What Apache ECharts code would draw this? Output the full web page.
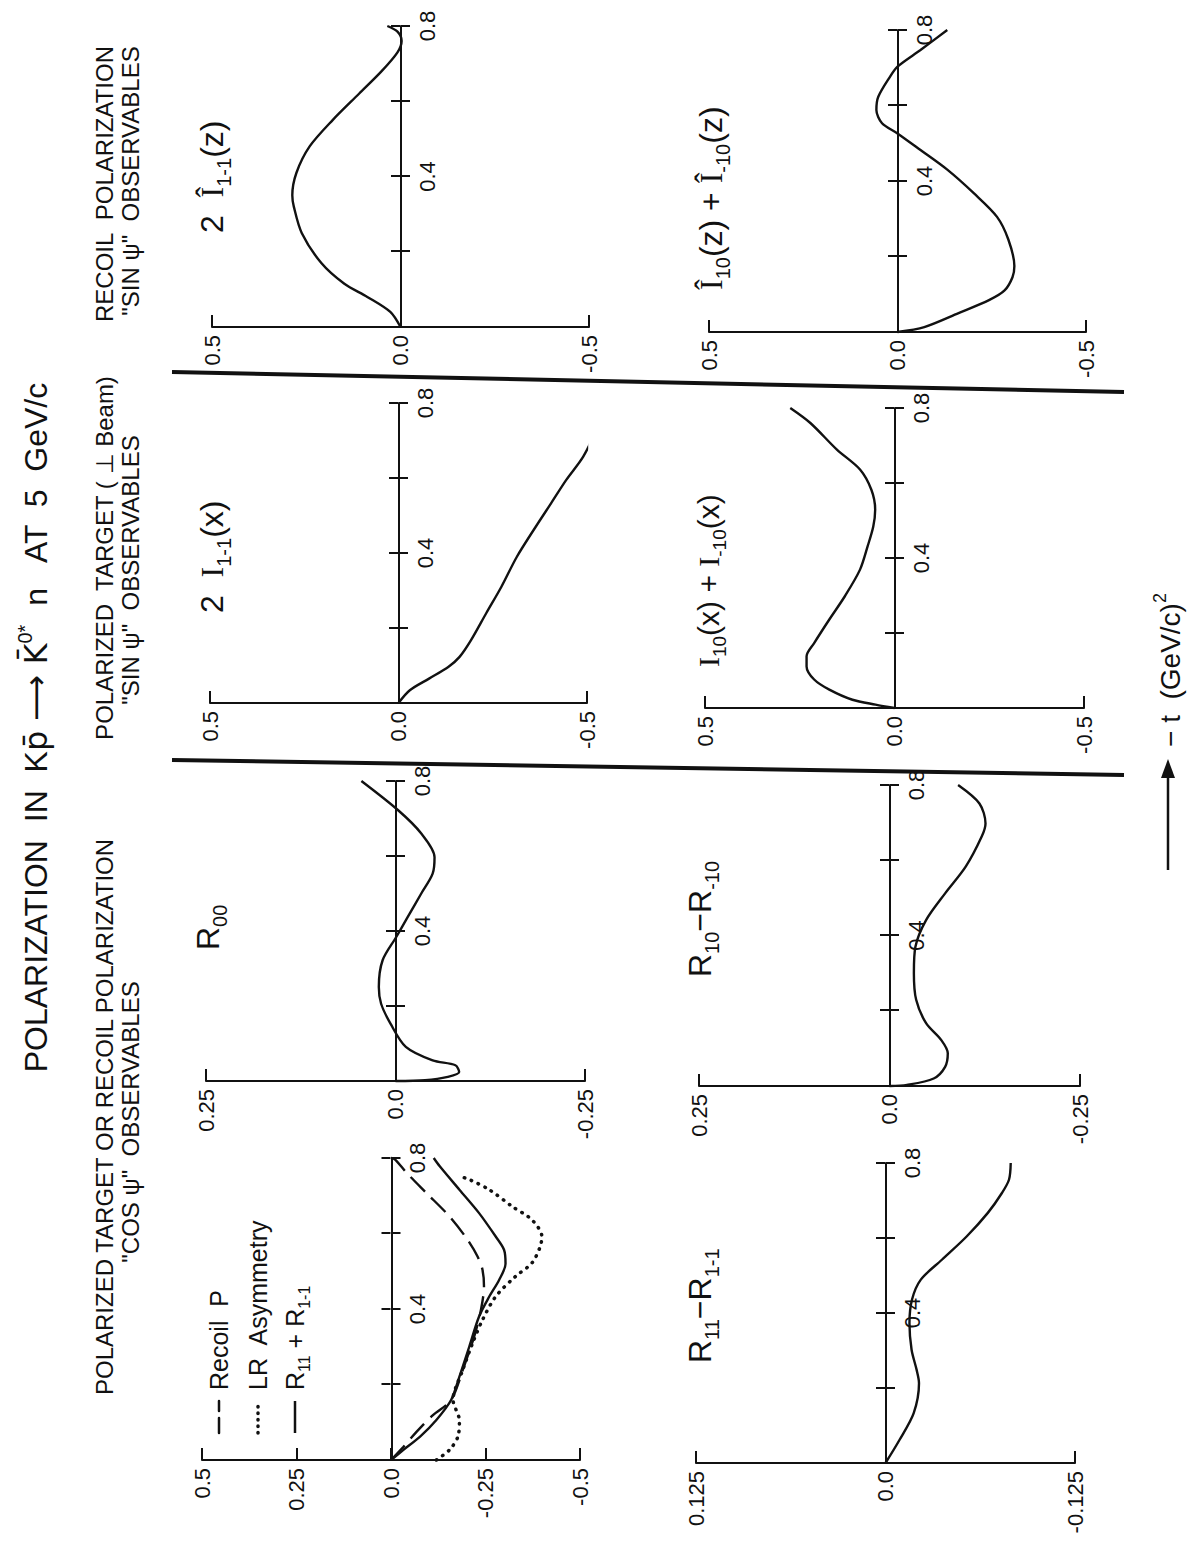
<!DOCTYPE html>
<html>
<head>
<meta charset="utf-8">
<title>Polarization in K-p to K0* n at 5 GeV/c</title>
<style>
    html, body { margin: 0; padding: 0; background: #fff; }
    body { width: 1190px; height: 1549px; overflow: hidden; position: relative; }
    /* the figure is drawn landscape and turned a quarter to the left, like the scanned page */
    #chart {
        position: absolute; left: 0; top: 0;
        width: 1549px; height: 1190px;
        transform-origin: 0 0;
        transform: translateY(1549px) rotate(-90deg);
    }
</style>
</head>
<body>
<div id="chart"></div>
<script src="https://cdn.jsdelivr.net/npm/echarts@6/dist/echarts.min.js"></script>
<script>
    // -t axis: ticks every 0.2, only these get a label
    var tLabels = ['0.4', '0.8'];

    // curves as [-t, value]
    var hatI1m1z = [[0, 0], [0.04, 0.027], [0.08, 0.088], [0.115, 0.149], [0.17, 0.21], [0.25, 0.262],
        [0.32, 0.283], [0.35, 0.287], [0.41, 0.276], [0.48, 0.241], [0.55, 0.18], [0.62, 0.11],
        [0.68, 0.05], [0.73, 0.008], [0.76, -0.003], [0.785, 0.008], [0.8, 0.035]];
    var hatI10z = [[0, 0], [0.013, -0.071], [0.05, -0.162], [0.085, -0.244], [0.11, -0.284], [0.145, -0.305],
        [0.175, -0.31], [0.245, -0.294], [0.305, -0.264], [0.367, -0.203], [0.43, -0.132], [0.482, -0.061],
        [0.526, 0], [0.553, 0.041], [0.588, 0.056], [0.623, 0.051], [0.676, 0.02], [0.703, 0],
        [0.747, -0.061], [0.8, -0.132]];
    var I1m1x = [[0, 0], [0.034, -0.03], [0.065, -0.081], [0.096, -0.132], [0.123, -0.162], [0.167, -0.192],
        [0.24, -0.233], [0.31, -0.273], [0.39, -0.314], [0.47, -0.364], [0.533, -0.405], [0.595, -0.445],
        [0.657, -0.49], [0.73, -0.525], [0.8, -0.55]];
    var I10x = [[0, 0], [0.009, 0.05], [0.022, 0.111], [0.049, 0.172], [0.076, 0.212], [0.111, 0.232],
        [0.138, 0.232], [0.173, 0.212], [0.236, 0.172], [0.298, 0.131], [0.369, 0.091], [0.431, 0.071],
        [0.484, 0.056], [0.529, 0.051], [0.582, 0.061], [0.636, 0.091], [0.689, 0.152], [0.76, 0.222],
        [0.8, 0.275]];
    var R00 = [[0, 0], [0.002, -0.039], [0.011, -0.069], [0.024, -0.084], [0.042, -0.079], [0.055, -0.049],
        [0.091, -0.0136], [0.153, 0.0066], [0.206, 0.019], [0.251, 0.022], [0.322, 0.017], [0.384, -0.001],
        [0.437, -0.016], [0.5, -0.034], [0.553, -0.049], [0.597, -0.0515], [0.66, -0.034], [0.722, -0.0035],
        [0.8, 0.045]];
    var R10mR_10 = [[0, 0], [0.003, -0.023], [0.02, -0.058], [0.051, -0.073], [0.087, -0.0765], [0.122, -0.068],
        [0.167, -0.048], [0.229, -0.035], [0.3, -0.032], [0.37, -0.034], [0.441, -0.048], [0.512, -0.073],
        [0.583, -0.1], [0.663, -0.121], [0.698, -0.126], [0.751, -0.118], [0.8, -0.09]];
    var recoilP = [[0, 0], [0.035, -0.033], [0.075, -0.068], [0.119, -0.111], [0.159, -0.159], [0.239, -0.19],
        [0.327, -0.22], [0.398, -0.238], [0.46, -0.246], [0.504, -0.242], [0.539, -0.229], [0.583, -0.203],
        [0.645, -0.155], [0.707, -0.094], [0.76, -0.042], [0.796, -0.011], [0.8, 0]];
    var lrAsym = [[0, -0.12], [0.027, -0.155], [0.062, -0.177], [0.106, -0.181], [0.133, -0.172], [0.159, -0.164],
        [0.239, -0.19], [0.31, -0.216], [0.371, -0.242], [0.433, -0.277], [0.486, -0.329], [0.522, -0.373],
        [0.566, -0.395], [0.592, -0.399], [0.636, -0.373], [0.672, -0.32], [0.716, -0.26], [0.743, -0.207],
        [0.752, -0.181]];
    var R11pR1m1 = [[0, 0], [0.027, -0.033], [0.062, -0.077], [0.106, -0.12], [0.159, -0.159], [0.221, -0.181],
        [0.3, -0.207], [0.38, -0.233], [0.433, -0.26], [0.477, -0.286], [0.52, -0.303], [0.557, -0.299],
        [0.592, -0.277], [0.654, -0.233], [0.716, -0.181], [0.778, -0.129], [0.8, -0.113]];
    var R11mR1m1 = [[0, 0], [0.062, -0.0093], [0.133, -0.0186], [0.213, -0.0221], [0.249, -0.0205],
        [0.302, -0.0172], [0.373, -0.0158], [0.436, -0.0175], [0.489, -0.0233], [0.542, -0.0372],
        [0.604, -0.0535], [0.667, -0.0675], [0.72, -0.0768], [0.756, -0.0815], [0.8, -0.0826]];

    var INK = '#111';
    var FONT = "'Liberation Sans', Arial, sans-serif";

    // panel boxes in the unrotated frame (left = -t 0, top = +lim)
    var panels = [
        {left: 1222, top: 212, width: 301, height: 377, lim: 0.5, step: 0.5},    // 2 I1-1(z)
        {left: 1217, top: 709, width: 302, height: 377, lim: 0.5, step: 0.5},    // I10(z)+I-10(z)
        {left: 846, top: 210, width: 300, height: 377, lim: 0.5, step: 0.5},     // 2 I1-1(x)
        {left: 841, top: 705, width: 300, height: 379, lim: 0.5, step: 0.5},     // I10(x)+I-10(x)
        {left: 468, top: 206, width: 300, height: 379, lim: 0.25, step: 0.25},   // R00
        {left: 463, top: 699, width: 301, height: 381, lim: 0.25, step: 0.25},   // R10-R-10
        {left: 89, top: 202, width: 302, height: 378, lim: 0.5, step: 0.25},     // recoil P, LR, R11+R1-1
        {left: 86, top: 696, width: 300, height: 379, lim: 0.125, step: 0.125}   // R11-R1-1
    ];
    var n = panels.length;

    var grid = [], xAxis = [], yAxis = [];
    function tLabel(v) {
        var s = v.toFixed(1);
        return tLabels.indexOf(s) >= 0 ? s : '';
    }
    // plotting boxes: value axis shown, -t axis hidden (drawn on the zero line below)
    panels.forEach(function (p, i) {
        grid.push({left: p.left, top: p.top, width: p.width, height: p.height, outerBoundsMode: 'none'});
        xAxis.push({gridIndex: i, type: 'value', min: 0, max: 0.8, interval: 0.2, show: false});
        yAxis.push({
            gridIndex: i, type: 'value', position: 'left', min: -p.lim, max: p.lim, interval: p.step,
            axisLine: {show: true, onZero: false, lineStyle: {color: INK, width: 2}},
            axisTick: {show: true, inside: true, length: 12, lineStyle: {color: INK, width: 2}},
            axisLabel: {
                margin: 8, color: INK, fontSize: 22, fontFamily: FONT,
                formatter: function (v) {
                    return v === 0 ? '0.0' : String(+v.toFixed(3));
                }
            },
            splitLine: {show: false}
        });
    });
    // thin strips on each zero line carrying the -t axis with ticks crossing both ways
    panels.forEach(function (p, i) {
        var g = n + i;
        grid.push({left: p.left, top: p.top + p.height / 2 - 0.5, width: p.width, height: 1, outerBoundsMode: 'none'});
        xAxis.push({
            gridIndex: g, type: 'value', position: 'bottom', min: 0, max: 0.8, interval: 0.2,
            axisLine: {onZero: false, lineStyle: {color: INK, width: 2}},
            axisTick: {inside: false, length: 9, lineStyle: {color: INK, width: 2}},
            axisLabel: {margin: 15, color: INK, fontSize: 22, fontFamily: FONT, formatter: tLabel},
            splitLine: {show: false}
        });
        xAxis.push({
            gridIndex: g, type: 'value', position: 'top', min: 0, max: 0.8, interval: 0.2,
            axisLine: {show: false, onZero: false},
            axisTick: {inside: false, length: 9, lineStyle: {color: INK, width: 2}},
            axisLabel: {show: false},
            splitLine: {show: false}
        });
        yAxis.push({gridIndex: g, type: 'value', min: -1, max: 1, show: false});
    });

    function curve(name, panel, data, lineStyle) {
        return {
            name: name, type: 'line', xAxisIndex: panel, yAxisIndex: panel,
            data: data, showSymbol: false, symbol: 'none', smooth: 0.3,
            lineStyle: Object.assign({color: INK, width: 2.4}, lineStyle || {})
        };
    }

    var dashed = {type: [20, 9]};
    var dotted = {type: [0.5, 7], width: 3.5, cap: 'round'};

    var series = [
        curve('2 I1-1(z)', 0, hatI1m1z),
        curve('I10(z) + I-10(z)', 1, hatI10z),
        curve('2 I1-1(x)', 2, I1m1x),
        curve('I10(x) + I-10(x)', 3, I10x),
        curve('R00', 4, R00),
        curve('R10 - R-10', 5, R10mR_10),
        curve('Recoil P', 6, recoilP, dashed),
        curve('LR Asymmetry', 6, lrAsym, dotted),
        curve('R11 + R1-1', 6, R11pR1m1),
        curve('R11 - R1-1', 7, R11mR1m1)
    ];

    function richFor(size) {
        return {
            s: {fontSize: Math.round(size * 0.64), fontFamily: FONT, padding: [Math.round(size * 0.72), 0, 0, 0]},
            u: {fontSize: Math.round(size * 0.64), fontFamily: FONT, padding: [0, 0, Math.round(size * 0.72), 0]},
            i: {fontSize: size, fontFamily: "'Liberation Serif', serif"},
            b: {fontSize: size, fontFamily: "'DejaVu Sans', sans-serif"}
        };
    }

    function text(u, v, str, size, align) {
        return {
            type: 'text', x: u, y: v, silent: true,
            style: {
                text: str, fill: INK, fontSize: size, fontFamily: FONT,
                textAlign: align || 'left', align: align || 'left',
                textVerticalAlign: 'middle', verticalAlign: 'middle',
                rich: richFor(size)
            }
        };
    }

    function rule(u1, v1, u2, v2, width, dash) {
        return {
            type: 'line', silent: true,
            shape: {x1: u1, y1: v1, x2: u2, y2: v2},
            style: {stroke: INK, lineWidth: width, lineDash: dash || null, lineCap: dash ? 'round' : 'butt'}
        };
    }

    var graphic = [
        // title and section headings
        text(822, 36, 'POLARIZATION  IN  K{b|p\u0304}{b| \u27F6 }{b|K\u0304}{u|0*}  n   AT  5  GeV/c', 32, 'center'),
        text(1365, 104, 'RECOIL  POLARIZATION', 24, 'center'),
        text(1368, 130, '"SIN \u03C8"  OBSERVABLES', 24, 'center'),
        text(991, 104, 'POLARIZED  TARGET ( \u22A5 Beam)', 24, 'center'),
        text(979, 130, '"SIN \u03C8"  OBSERVABLES', 24, 'center'),
        text(432, 104, 'POLARIZED TARGET OR RECOIL POLARIZATION', 24, 'center'),
        text(427, 130, '"COS \u03C8"  OBSERVABLES', 24, 'center'),

        // panel labels
        text(1316, 212, '2  {i|\u00CE}{s|1-1}(z)', 32),
        text(1259, 711, '{i|\u00CE}{s|10}(z) + {i|\u00CE}{s|-10}(z)', 32),
        text(936, 212, '2  {i|I}{s|1-1}(x)', 32),
        text(882, 708, '{i|I}{s|10}(x) + {i|I}{s|-10}(x)', 30),
        text(599, 208, 'R{s|00}', 32),
        text(572, 700, 'R{s|10}\u2212R{s|-10}', 32),
        text(186, 700, 'R{s|11}\u2212R{s|1-1}', 32),

        // key of the cos psi panel
        rule(116, 219, 148, 219, 2.5, [15, 7]),
        text(159, 219, 'Recoil  P', 25),
        rule(116, 258, 148, 258, 3.5, [0.5, 6]),
        text(159, 258, 'LR  Asymmetry', 25),
        rule(116, 295, 148, 295, 2.5),
        text(159, 295, 'R{s|11} + R{s|1-1}', 25),

        // thick separators between the three groups
        rule(1177, 172, 1157, 1124, 4),
        rule(789, 172, 774, 1124, 4),

        // -t arrow
        rule(679, 1168, 776, 1168, 2.5),
        {type: 'polygon', silent: true, shape: {points: [[790, 1168], [771, 1161], [771, 1175]]}, style: {fill: INK}},
        text(802, 1170, '\u2212 t  (GeV/c){u|2}', 28)
    ];

    var myChart = echarts.init(document.getElementById('chart'), null, {renderer: 'svg'});
    var option = {
        animation: false,
        backgroundColor: '#fff',
        grid: grid,
        xAxis: xAxis,
        yAxis: yAxis,
        series: series,
        graphic: graphic
    };
    myChart.setOption(option);
</script>
</body>
</html>
